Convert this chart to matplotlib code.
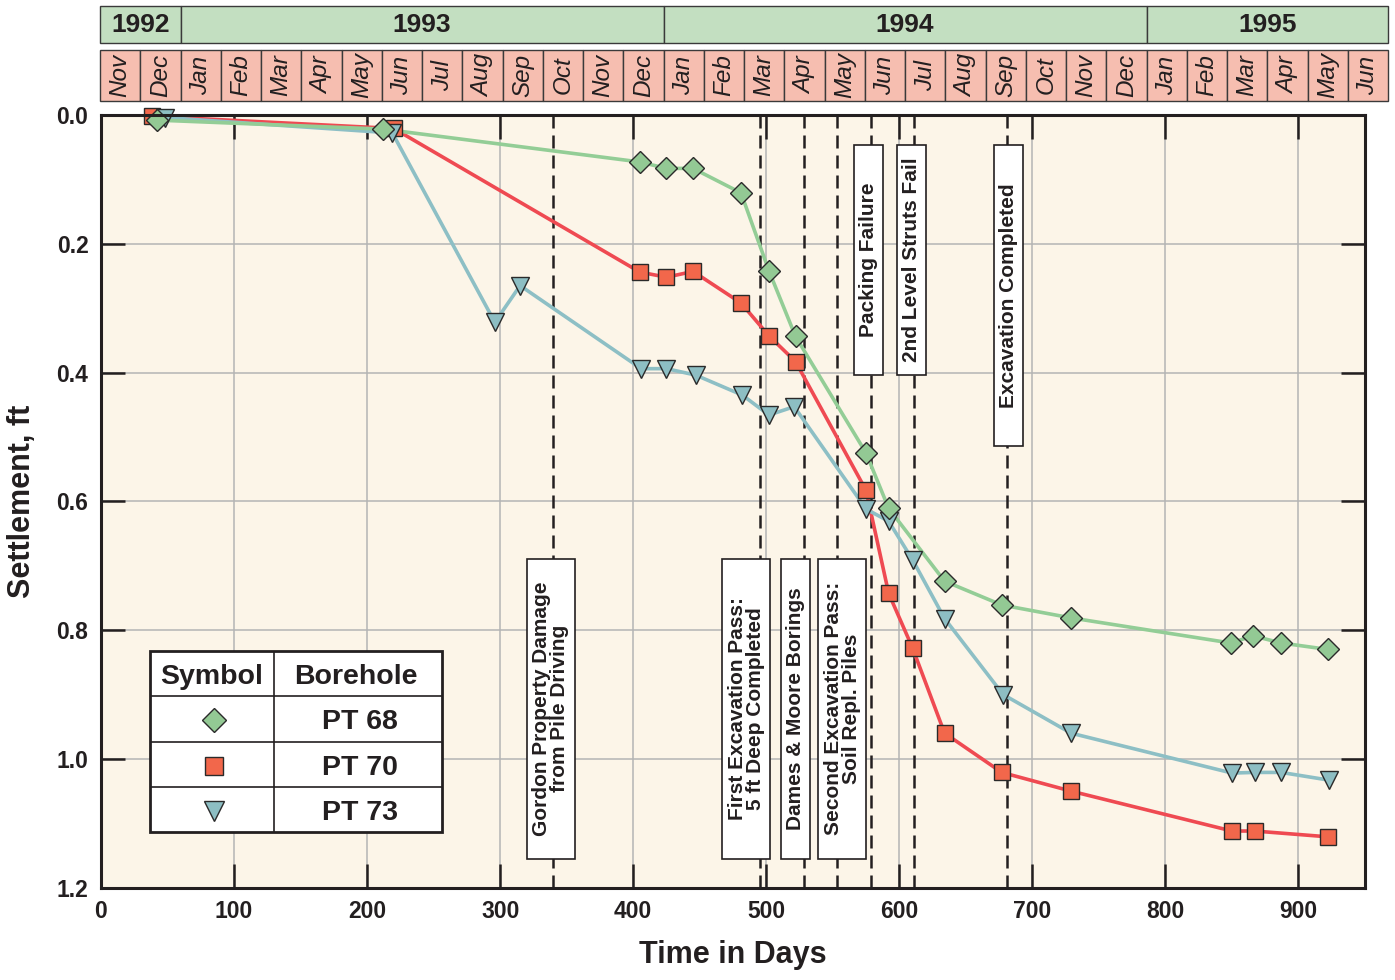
import matplotlib.pyplot as plt
from matplotlib.patches import Rectangle

plt.rcParams['font.family'] = ['Liberation Sans', 'DejaVu Sans']

# Settlement surveys, time counted in days from 1 Nov 1992
pt68_days = [42, 212, 405, 425, 445, 481, 502, 522, 575, 592, 634, 677, 729, 849, 866, 887, 922]
pt68_ft = [0.008, 0.022, 0.073, 0.083, 0.083, 0.121, 0.242, 0.344, 0.525, 0.611,
           0.724, 0.761, 0.781, 0.820, 0.809, 0.820, 0.830]

pt70_days = [38, 220, 405, 425, 445, 481, 502, 522, 575, 592, 610, 634, 677, 729, 850, 867, 922]
pt70_ft = [0.002, 0.021, 0.244, 0.252, 0.243, 0.292, 0.343, 0.383, 0.583, 0.743,
           0.828, 0.960, 1.021, 1.050, 1.112, 1.112, 1.121]

pt73_days = [48, 219, 296, 315, 406, 425, 447, 482, 502, 521, 575, 592, 610, 634,
             678, 729, 850, 867, 887, 923]
pt73_ft = [0.004, 0.028, 0.322, 0.265, 0.394, 0.394, 0.404, 0.435, 0.466, 0.453,
           0.612, 0.631, 0.691, 0.782, 0.900, 0.960, 1.022, 1.021, 1.021, 1.033]

boreholes = ['PT 68', 'PT 70', 'PT 73']

# construction events
event_days = [340, 495, 528, 553, 579, 611, 681]
event_labels = ['Gordon Property Damage\nfrom Pile Driving',
                'First Excavation Pass:\n5 ft Deep Completed',
                'Dames & Moore Borings',
                'Second Excavation Pass:\nSoil Repl. Piles',
                'Packing Failure',
                '2nd Level Struts Fail',
                'Excavation Completed']

# calendar strip
month_abbr = ['Jan', 'Feb', 'Mar', 'Apr', 'May', 'Jun',
              'Jul', 'Aug', 'Sep', 'Oct', 'Nov', 'Dec']
years = ['1992', '1993', '1994', '1995']
months_per_year = [2, 12, 12, 6]
month_labels = month_abbr[10:] + month_abbr + month_abbr + month_abbr[:6]

# label box placement: shift from the event line (days), extent in ft
box_shift = [-2, -10, -6, 4, -2, -2, 1]
box_span = [(0.689, 1.155)] * 4 + [(0.047, 0.404), (0.047, 0.404), (0.047, 0.514)]

ink = '#231F20'
styles = {
    'PT 68': dict(marker='D', ms=11.5, line='#93CD96', face='#93C994'),
    'PT 70': dict(marker='s', ms=11.5, line='#EF4A52', face='#F2674B'),
    'PT 73': dict(marker='v', ms=13.5, line='#8DBFC5', face='#8DBEC3'),
}
series = {'PT 68': (pt68_days, pt68_ft),
          'PT 70': (pt70_days, pt70_ft),
          'PT 73': (pt73_days, pt73_ft)}

fig = plt.figure(figsize=(13.95, 9.8), dpi=100)
ax = fig.add_axes([0.0724, 0.0942, 0.9061, 0.7885])
ax.set_facecolor('#FCF5E8')

ax.set_xlim(0, 950)
ax.set_ylim(1.2, 0)
ax.set_xticks(range(0, 1000, 100))
ax.set_yticks([0.0, 0.2, 0.4, 0.6, 0.8, 1.0, 1.2])
ax.set_yticklabels(['%.1f' % v for v in ax.get_yticks()])
ax.grid(True, color='#B4B4B4', lw=1.1, zorder=0)
ax.set_axisbelow(True)
ax.tick_params(direction='in', length=17, width=1.8, color=ink,
               top=True, right=True, labelsize=16.5, pad=9, labelcolor=ink)
for lab in ax.get_xticklabels() + ax.get_yticklabels():
    lab.set_fontweight('bold')
for sp in ax.spines.values():
    sp.set_linewidth(2.2)
    sp.set_color(ink)
    sp.set_zorder(10)

ax.set_xlabel('Time in Days', fontsize=22, fontweight='bold', color=ink, labelpad=12)
ax.set_ylabel('Settlement, ft', fontsize=22, fontweight='bold', color=ink, labelpad=14)

# event lines with their label boxes
for day, text, shift, (y0, y1) in zip(event_days, event_labels, box_shift, box_span):
    ax.axvline(day, color=ink, lw=1.8, dashes=(5.2, 2.8), zorder=2)
    w = 36 if '\n' in text else 22
    cx = day + shift
    ax.add_patch(Rectangle((cx - w / 2, y0), w, y1 - y0, facecolor='white',
                           edgecolor=ink, lw=1.2, zorder=4))
    ax.text(cx, (y0 + y1) / 2, text, rotation=90, ha='center', va='center',
            multialignment='center', fontsize=15, fontweight='bold', color=ink,
            linespacing=0.92, zorder=5)

# settlement curves: lines first, markers on top
for name in ['PT 70', 'PT 73', 'PT 68']:
    d, v = series[name]
    ax.plot(d, v, color=styles[name]['line'], lw=2.6, zorder=3,
            solid_capstyle='round')
for name in ['PT 70', 'PT 73', 'PT 68']:
    d, v = series[name]
    st = styles[name]
    ax.plot(d, v, ls='none', marker=st['marker'], ms=st['ms'],
            mfc=st['face'], mec='#2A2A2A', mew=1.0, zorder=6, clip_on=False)

# symbol / borehole table
leg = fig.add_axes([150 / 1395, (980 - 832) / 980, 292 / 1395, 181 / 980])
leg.set_xlim(0, 292)
leg.set_ylim(181, 0)
leg.axis('off')
leg.add_patch(Rectangle((0, 0), 292, 181, facecolor='white', edgecolor=ink, lw=2.0,
                        clip_on=False))
leg.plot([124, 124], [0, 181], color=ink, lw=1.2)
for yy in [45, 90.7, 136.3]:
    leg.plot([0, 292], [yy, yy], color=ink, lw=1.2)
leg.text(62, 26, 'Symbol', ha='center', va='center', fontsize=20.5, fontweight='bold', color=ink)
leg.text(206, 26, 'Borehole', ha='center', va='center', fontsize=20.5, fontweight='bold', color=ink)
for i, name in enumerate(boreholes):
    yc = 69 + i * 45.6
    st = styles[name]
    leg.plot([64], [yc], ls='none', marker=st['marker'], ms=st['ms'] * 1.1,
             mfc=st['face'], mec='#2A2A2A', mew=1.0)
    leg.text(210, yc + 2, name, ha='center', va='center', fontsize=20.5,
             fontweight='bold', color=ink)

# calendar strip above the plot
hdr = fig.add_axes([100 / 1395, (980 - 101) / 980, 1288 / 1395, 95 / 980])
hdr.set_xlim(0, len(month_labels))
hdr.set_ylim(0, 95)
hdr.axis('off')
for i, m in enumerate(month_labels):
    hdr.add_patch(Rectangle((i, 0), 1, 51, facecolor='#F6BEB0', edgecolor='#3A3A3A',
                            lw=1.0, clip_on=False))
    hdr.text(i + 0.5, 25.5, m, rotation=90, ha='center', va='center',
             fontsize=17.5, fontstyle='italic', color=ink)
start = 0
for yr, n in zip(years, months_per_year):
    hdr.add_patch(Rectangle((start, 58), n, 37, facecolor='#C3DFC1', edgecolor='#3A3A3A',
                            lw=1.0, clip_on=False))
    hdr.text(start + n / 2, 76.5, yr, ha='center', va='center', fontsize=19,
             fontweight='bold', color=ink)
    start += n

fig.savefig('out.png', dpi=100)
